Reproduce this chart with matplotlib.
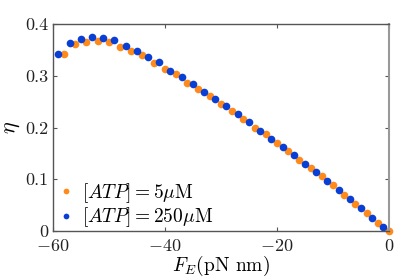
import matplotlib
matplotlib.use("Agg")
import matplotlib.pyplot as plt

# efficiency vs external force, two ATP concentrations
fe_5 = [-58, -56, -54, -52, -50, -48, -46, -44, -42, -40, -38, -36, -34, -32, -30,
        -28, -26, -24, -22, -20, -18, -16, -14, -12, -10, -8, -6, -4, -2, 0]
eta_5 = [0.343, 0.361, 0.365, 0.368, 0.366, 0.355, 0.348, 0.340, 0.325, 0.314,
         0.303, 0.287, 0.274, 0.261, 0.245, 0.232, 0.217, 0.200, 0.187, 0.170,
         0.154, 0.138, 0.122, 0.106, 0.088, 0.070, 0.052, 0.035, 0.016, 0.0]

fe_250 = [-59, -57, -55, -53, -51, -49, -47, -45, -43, -41, -39, -37, -35, -33, -31,
          -29, -27, -25, -23, -21, -19, -17, -15, -13, -11, -9, -7, -5, -3, -1]
eta_250 = [0.343, 0.364, 0.372, 0.375, 0.374, 0.369, 0.358, 0.348, 0.336, 0.326,
           0.310, 0.297, 0.285, 0.269, 0.256, 0.241, 0.226, 0.210, 0.194, 0.178,
           0.162, 0.146, 0.130, 0.114, 0.097, 0.079, 0.061, 0.044, 0.025, 0.007]

plt.rcParams['font.family'] = 'serif'
plt.rcParams['font.serif'] = ['cmr10']
plt.rcParams['mathtext.fontset'] = 'cm'
plt.rcParams['axes.formatter.use_mathtext'] = True
plt.rcParams['axes.unicode_minus'] = True

fig = plt.figure(figsize=(4.16, 2.8), dpi=100)
ax = fig.add_axes([0.127, 0.175, 0.808, 0.739])

ax.plot(fe_5, eta_5, 'o', color='#ff8a1c', ms=5.5, mec='none', clip_on=False,
        label=r'$[ATP] = 5\mu$M')
ax.plot(fe_250, eta_250, 'o', color='#0a3fd6', ms=5.5, mec='none', clip_on=False,
        label=r'$[ATP] = 250\mu$M')

ax.set_xlim(-60, 0)
ax.set_ylim(0, 0.4)
ax.set_xticks([-60, -40, -20, 0])
ax.set_yticks([0, 0.1, 0.2, 0.3, 0.4])
ax.set_yticklabels(['0', '0.1', '0.2', '0.3', '0.4'])
ax.tick_params(direction='in', top=True, right=True, labelsize=13, colors='#555555',
               labelcolor='#222222', length=3)
ax.tick_params(axis='x', pad=5)
for s in ax.spines.values():
    s.set_color('#555555')
    s.set_linewidth(1.0)
ax.spines['right'].set_color('#999999')
ax.spines['right'].set_linewidth(1.5)

ax.set_xlabel(r'$F_E$(pN nm)', fontsize=14, labelpad=0)
ax.set_ylabel(r'$\eta$', fontsize=16, labelpad=2)
ax.legend(loc='lower left', bbox_to_anchor=(0.0, -0.03), frameon=False, fontsize=14,
          handletextpad=0.5, handlelength=0.6, borderaxespad=0, labelspacing=0.05,
          markerscale=0.75)

fig.savefig('out.png', dpi=100)
